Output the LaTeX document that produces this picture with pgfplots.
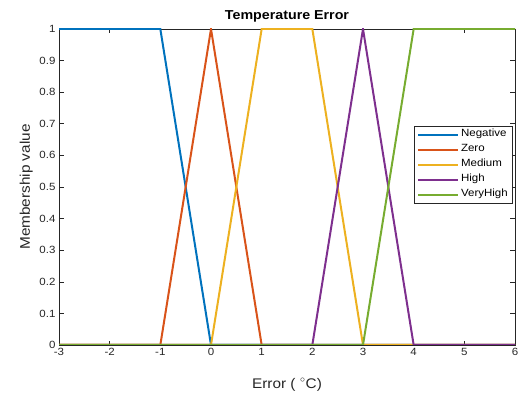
\documentclass[border=0pt]{standalone}
\usepackage{pgfplots}
\pgfplotsset{compat=1.18}
\usepackage{fontspec}
\setmainfont[FakeStretch=1.1]{Liberation Sans}
\definecolor{c1}{rgb}{0,0.447,0.741}
\definecolor{c2}{rgb}{0.85,0.325,0.098}
\definecolor{c3}{rgb}{0.929,0.694,0.125}
\definecolor{c4}{rgb}{0.494,0.184,0.556}
\definecolor{c5}{rgb}{0.466,0.674,0.188}
\definecolor{axc}{rgb}{0.15,0.15,0.15}
\begin{document}
\begin{tikzpicture}
\useasboundingbox (-59bp,-49bp) rectangle (459bp,345bp);
\begin{axis}[
  at={(0,0)}, anchor=south west,
  scale only axis, width=456bp, height=316bp,
  xmin=-3, xmax=6, ymin=0, ymax=1,
  xtick={-3,-2,...,6}, ytick={0,0.1,...,1},
  yticklabel style={/pgf/number format/fixed},
  /pgf/number format/assume math mode=true,
  tick align=inside, tick pos=both,
  major tick length=4.5bp,
  tick style={axc, line width=0.6pt},
  axis line style={axc, line width=0.6pt},
  ticklabel style={font=\fontsize{10.5}{12}\selectfont, text=axc},
  title={\textbf{Temperature Error}},
  title style={font=\fontsize{13}{15}\selectfont, at={(axis description cs:0.5,1)}, anchor=base, yshift=4bp, inner sep=0pt},
  xlabel={Error (\,\,$^{\circ}$C)},
  ylabel={Membership value},
  label style={font=\fontsize{14}{16}\selectfont, text=axc},
  xlabel style={at={(axis description cs:0.5,0)}, anchor=base, yshift=-43bp, inner sep=0pt},
  ylabel style={at={([xshift=-29bp]axis description cs:0,0.5)}, anchor=base, inner sep=0pt},
  legend style={at={(0.9956,0.693)}, anchor=north east, draw=axc, line width=0.5pt,
    font=\fontsize{10.5}{12}\selectfont, row sep=0pt, inner xsep=3bp, inner ysep=1bp,
    nodes={inner ysep=0pt, text height=9.5bp, text depth=5.5bp},
    legend cell align=left},
  legend image code/.code={\draw[#1, line width=2bp] (0bp,0bp) -- (40bp,0bp);},
]
\addplot[c1, line width=2bp] coordinates {(-3,1) (-1,1) (0,0) (6,0)};
\addplot[c2, line width=2bp] coordinates {(-3,0) (-1,0) (0,1) (1,0) (6,0)};
\addplot[c3, line width=2bp] coordinates {(-3,0) (0,0) (1,1) (2,1) (3,0) (6,0)};
\addplot[c4, line width=2bp] coordinates {(-3,0) (2,0) (3,1) (4,0) (6,0)};
\addplot[c5, line width=2bp] coordinates {(-3,0) (3,0) (4,1) (6,1)};
\legend{Negative,Zero,Medium,High,VeryHigh}
\end{axis}
\end{tikzpicture}
\end{document}
